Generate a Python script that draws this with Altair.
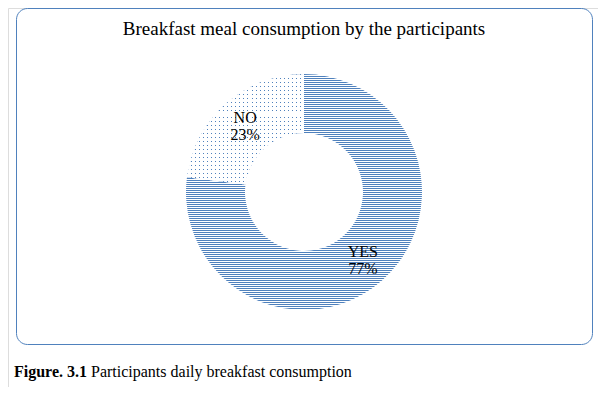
import altair as alt
import pandas as pd

# ---- data ----
categories = ["YES", "NO"]
percents = [77, 23]
order = [1, 2]

title_text = "Breakfast meal consumption by the participants"
caption_bold = "Figure. 3.1"
caption_text = "Participants daily breakfast consumption"

BLUE = "#4f81bd"
SERIF = "Liberation Serif"

df = pd.DataFrame({"cat": categories, "pct": percents, "ord": order})


def stripes(n, color_a, color_b, frac_a, horizontal=True):
    stops = []
    for i in range(n):
        a0 = i / n
        a1 = (i + frac_a) / n
        b1 = (i + 1) / n
        stops += [
            alt.GradientStop(offset=a0, color=color_a),
            alt.GradientStop(offset=a1, color=color_a),
            alt.GradientStop(offset=a1, color=color_b),
            alt.GradientStop(offset=b1, color=color_b),
        ]
    if horizontal:
        return alt.LinearGradient(gradient="linear", stops=stops, x1=0, y1=0, x2=0, y2=1)
    return alt.LinearGradient(gradient="linear", stops=stops, x1=0, y1=0, x2=1, y2=0)


grad_yes = stripes(118, BLUE, "#ffffff", 0.5, True)
grad_no_h = stripes(28, BLUE, "#ffffff", 0.25, True)
grad_no_v = stripes(29, "rgba(255,255,255,0)", "#ffffff", 0.25, False)

CX, CY = 296, 184
R_OUT, R_IN = 118, 59

base = alt.Chart(df).encode(
    theta=alt.Theta("pct:Q", stack=True),
    order=alt.Order("ord:Q", sort="ascending"),
    detail="cat:N",
    x=alt.value(CX),
    y=alt.value(CY),
)

arcs = base.mark_arc(outerRadius=R_OUT, innerRadius=R_IN).encode(
    fill=alt.condition("datum.cat == 'YES'", alt.value(grad_yes), alt.value(grad_no_h))
)
dots = base.mark_arc(outerRadius=R_OUT, innerRadius=R_IN).encode(
    fill=alt.condition("datum.cat == 'NO'", alt.value(grad_no_v), alt.value("transparent"))
)

labels = base.transform_calculate(
    label="datum.cat + '\\n' + datum.pct + '%'"
).mark_text(
    radius=89, font=SERIF, fontSize=16, color="black", lineBreak="\n",
    lineHeight=17, align="center", baseline="middle", dy=-7
).encode(text="label:N")

one = pd.DataFrame({"k": [0]})

border = alt.Chart(one).mark_rect(
    fill="transparent", stroke=BLUE, strokeWidth=1, cornerRadius=11
).encode(
    x=alt.value(8.5), x2=alt.value(584.5), y=alt.value(0.5), y2=alt.value(336.5)
)

title = alt.Chart(one).mark_text(
    font=SERIF, fontSize=19, color="black", align="center", baseline="alphabetic"
).encode(x=alt.value(296), y=alt.value(27), text=alt.value(title_text))

cap1 = alt.Chart(one).mark_text(
    font=SERIF, fontSize=16, fontWeight="bold", color="black", align="left", baseline="alphabetic"
).encode(x=alt.value(6), y=alt.value(369), text=alt.value(caption_bold))

cap2 = alt.Chart(one).mark_text(
    font=SERIF, fontSize=16, color="black", align="left", baseline="alphabetic"
).encode(x=alt.value(83), y=alt.value(369), text=alt.value(caption_text))

chart = alt.layer(border, arcs, dots, labels, title, cap1, cap2).properties(
    width=590, height=379, autosize=alt.AutoSizeParams(type="none"), padding=0
).configure_view(stroke=None).configure(background="white")

chart.save("out.html", embed_options={"renderer": "svg", "actions": False})
